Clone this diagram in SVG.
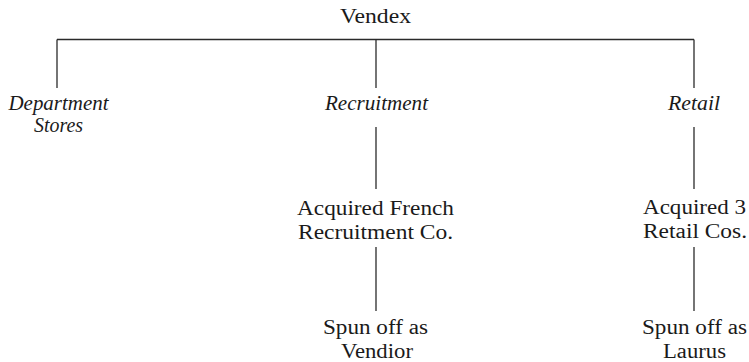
<svg xmlns="http://www.w3.org/2000/svg" width="749" height="362" viewBox="0 0 749 362">
<style>
text{font-family:'Liberation Serif','DejaVu Serif',serif;font-size:20px;fill:#1a1a1a;text-anchor:middle}
.it{font-style:italic}
.conn line{stroke:#2a2a2a;stroke-width:1.3;fill:none}
</style>
<rect width="749" height="362" fill="#ffffff"/>
<g id="connectors" class="conn">
<line x1="57" y1="39.5" x2="694" y2="39.5"/>
<line x1="57" y1="39.5" x2="57" y2="88"/>
<line x1="376" y1="39.5" x2="376" y2="88"/>
<line x1="694" y1="39.5" x2="694" y2="88"/>
<line x1="376" y1="127" x2="376" y2="189"/>
<line x1="694" y1="127" x2="694" y2="189"/>
<line x1="376" y1="247" x2="376" y2="311"/>
<line x1="694" y1="247" x2="694" y2="311"/>
</g>
<g id="vendex"><text x="375.5" y="23" textLength="71" lengthAdjust="spacingAndGlyphs">Vendex</text></g>
<g id="department-stores">
<text class="it" x="58.5" y="110" textLength="100" lengthAdjust="spacingAndGlyphs">Department</text>
<text class="it" x="58.5" y="132" textLength="49" lengthAdjust="spacingAndGlyphs">Stores</text>
</g>
<g id="recruitment"><text class="it" x="376.5" y="110" textLength="103" lengthAdjust="spacingAndGlyphs">Recruitment</text></g>
<g id="retail"><text class="it" x="694" y="110" textLength="52" lengthAdjust="spacingAndGlyphs">Retail</text></g>
<g id="acquired-french">
<text x="375.5" y="215" textLength="157" lengthAdjust="spacingAndGlyphs">Acquired French</text>
<text x="375.5" y="239" textLength="155" lengthAdjust="spacingAndGlyphs">Recruitment Co.</text>
</g>
<g id="acquired-retail">
<text x="694.5" y="214" textLength="103" lengthAdjust="spacingAndGlyphs">Acquired 3</text>
<text x="695" y="238" textLength="104" lengthAdjust="spacingAndGlyphs">Retail Cos.</text>
</g>
<g id="vendior">
<text x="375.5" y="334" textLength="105" lengthAdjust="spacingAndGlyphs">Spun off as</text>
<text x="377" y="358" textLength="72" lengthAdjust="spacingAndGlyphs">Vendior</text>
</g>
<g id="laurus">
<text x="694.5" y="334" textLength="105" lengthAdjust="spacingAndGlyphs">Spun off as</text>
<text x="694.5" y="358" textLength="63" lengthAdjust="spacingAndGlyphs">Laurus</text>
</g>
</svg>
